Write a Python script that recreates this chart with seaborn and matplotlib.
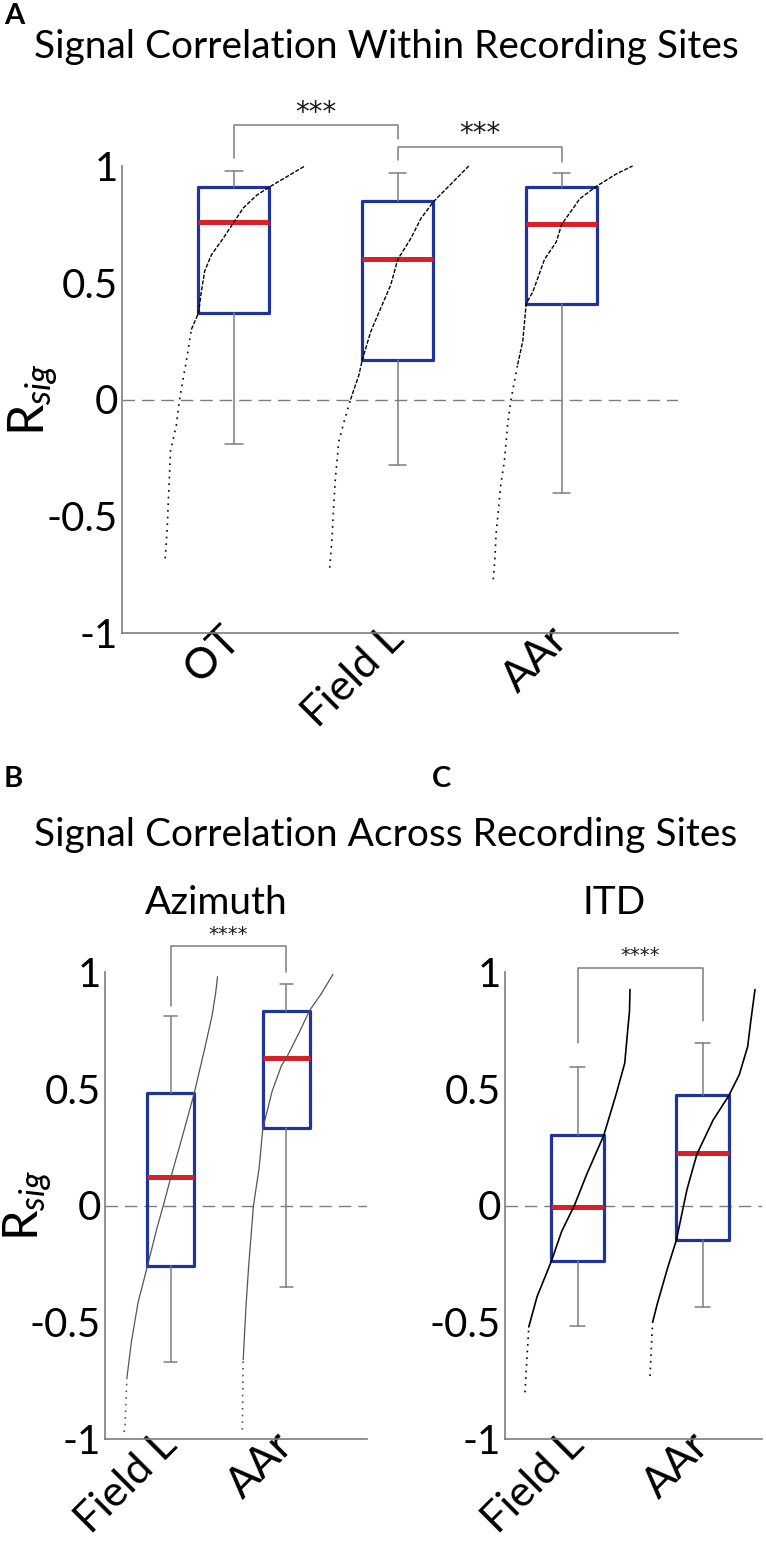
import numpy as np
import pandas as pd
import matplotlib
matplotlib.use("Agg")
import matplotlib.pyplot as plt
import matplotlib.transforms as mtrans
import seaborn as sns

sns.set_theme(style="white")
plt.rcParams['font.family'] = ['Lato', 'DejaVu Sans']
plt.rcParams['axes.unicode_minus'] = False
plt.rcParams['mathtext.fontset'] = 'custom'
plt.rcParams['mathtext.rm'] = 'Lato'
plt.rcParams['mathtext.it'] = 'Lato:italic'
plt.rcParams['text.color'] = 'black'
plt.rcParams['xtick.labelcolor'] = 'black'
plt.rcParams['ytick.labelcolor'] = 'black'

# ---------------- data ----------------
# Panel A: within recording sites
A_groups = ["OT", "Field L", "AAr"]
A_q1 = [0.37, 0.17, 0.41]
A_med = [0.76, 0.60, 0.75]
A_q3 = [0.91, 0.85, 0.91]
A_whislo = [-0.19, -0.28, -0.40]
A_whishi = [0.98, 0.97, 0.97]

A_OT_rank = [0.016, 0.030, 0.036, 0.045, 0.053, 0.094, 0.117, 0.14, 0.169, 0.20, 0.25, 0.27, 0.294, 0.342, 0.424, 0.50, 0.566, 0.661, 0.75, 1.0]
A_OT_val = [-0.68, -0.55, -0.46, -0.34, -0.22, -0.11, 0.0, 0.08, 0.18, 0.30, 0.37, 0.46, 0.55, 0.62, 0.69, 0.76, 0.82, 0.875, 0.91, 1.0]
A_FL_rank = [0.02, 0.037, 0.048, 0.06, 0.072, 0.084, 0.119, 0.167, 0.226, 0.25, 0.309, 0.379, 0.45, 0.5, 0.592, 0.663, 0.75, 1.0]
A_FL_val = [-0.72, -0.59, -0.46, -0.34, -0.26, -0.18, -0.10, 0.0, 0.105, 0.17, 0.29, 0.39, 0.49, 0.60, 0.69, 0.775, 0.846, 1.0]
A_AA_rank = [0.018, 0.03, 0.037, 0.053, 0.072, 0.096, 0.119, 0.143, 0.19, 0.226, 0.25, 0.296, 0.332, 0.379, 0.462, 0.5, 0.58, 0.628, 0.75, 0.888, 1.0]
A_AA_val = [-0.77, -0.68, -0.58, -0.48, -0.36, -0.265, -0.11, 0.0, 0.15, 0.25, 0.41, 0.46, 0.52, 0.60, 0.675, 0.75, 0.818, 0.86, 0.915, 0.967, 1.0]

# Panel B: across sites, azimuth
B_groups = ["Field L", "AAr"]
B_q1 = [-0.26, 0.33]
B_med = [0.12, 0.63]
B_q3 = [0.48, 0.835]
B_whislo = [-0.67, -0.35]
B_whishi = [0.81, 0.95]
B_FL_rank = [0.0, 0.01, 0.03, 0.08, 0.15, 0.25, 0.35, 0.42, 0.5, 0.62, 0.75, 0.85, 0.94, 0.98, 1.0]
B_FL_val = [-0.97, -0.95, -0.74, -0.58, -0.415, -0.26, -0.10, 0.0, 0.12, 0.29, 0.48, 0.65, 0.81, 0.91, 0.98]
B_AA_rank = [0.03, 0.04, 0.07, 0.10, 0.15, 0.21, 0.25, 0.35, 0.45, 0.5, 0.65, 0.75, 0.88, 1.0]
B_AA_val = [-0.96, -0.66, -0.43, -0.25, 0.0, 0.16, 0.33, 0.49, 0.60, 0.63, 0.75, 0.835, 0.91, 0.99]

# Panel C: across sites, ITD
C_groups = ["Field L", "AAr"]
C_q1 = [-0.237, -0.147]
C_med = [-0.006, 0.223]
C_q3 = [0.30, 0.472]
C_whislo = [-0.514, -0.434]
C_whishi = [0.595, 0.696]
C_FL_rank = [0.0, 0.01, 0.036, 0.115, 0.25, 0.35, 0.47, 0.59, 0.75, 0.87, 0.95, 0.98, 0.995, 1.0]
C_FL_val = [-0.80, -0.72, -0.52, -0.39, -0.24, -0.11, 0.0, 0.136, 0.30, 0.48, 0.61, 0.76, 0.83, 0.925]
C_AA_rank = [0.0, 0.025, 0.07, 0.166, 0.25, 0.353, 0.447, 0.6, 0.75, 0.85, 0.93, 0.96, 1.0]
C_AA_val = [-0.73, -0.50, -0.42, -0.27, -0.15, 0.07, 0.22, 0.365, 0.47, 0.56, 0.68, 0.79, 0.925]

YTICKS = [-1, -0.5, 0, 0.5, 1]
YTICKLABELS = ["-1", "-0.5", "0", "0.5", "1"]

# ---------------- style ----------------
BLUE = "#1f339a"
RED = "#dc1f26"
GRAY = "#7d7d7d"
W, H = 766, 1542
fig = plt.figure(figsize=(W / 100, H / 100), dpi=100)


def px_axes(l, t, r, b):
    return fig.add_axes([l / W, 1 - b / H, (r - l) / W, (b - t) / H])


def draw_curve(ax, xs, vals, color, lw, ls, tail_rank, rk):
    rk = np.asarray(rk)
    i = int(np.searchsorted(rk, tail_rank, side='right')) - 1
    i = max(i, 0)
    tail = pd.DataFrame({"x": xs[:i + 1], "y": vals[:i + 1]})
    main = pd.DataFrame({"x": xs[i:], "y": vals[i:]})
    if len(tail) > 1:
        sns.lineplot(data=tail, x="x", y="y", ax=ax, sort=False, estimator=None,
                     color=color, lw=1.2, linestyle=(0, (1, 3)),
                     clip_on=False, zorder=4)
    sns.lineplot(data=main, x="x", y="y", ax=ax, sort=False, estimator=None,
                 color=color, lw=lw, linestyle=ls, clip_on=False, zorder=4)


def draw_panel(ax, groups, q1, med, q3, lo, hi, curves, bw, cw, xlim,
               curve_color, curve_lw, curve_ls, tail_rank, fs_tick, fs_xtick):
    pos = list(range(1, len(groups) + 1))
    stats = [dict(med=m, q1=a, q3=b, whislo=l, whishi=h, fliers=[])
             for m, a, b, l, h in zip(med, q1, q3, lo, hi)]
    ax.axhline(0, color=GRAY, lw=1.0, ls=(0, (9, 5)), zorder=1)
    ax.bxp(stats, positions=pos, widths=bw, capwidths=cw, showfliers=False,
           manage_ticks=False,
           boxprops=dict(color=BLUE, lw=2.3),
           medianprops=dict(color=RED, lw=3.6, solid_capstyle='butt'),
           whiskerprops=dict(color=GRAY, lw=1.1),
           capprops=dict(color=GRAY, lw=1.1))
    for p, (rk, vals) in zip(pos, curves):
        xs = p + (np.asarray(rk) - 0.5) * 2 * bw
        draw_curve(ax, xs, np.asarray(vals), curve_color, curve_lw, curve_ls,
                   tail_rank, rk)
    ax.set_xlim(*xlim)
    ax.set_ylim(-1, 1)
    ax.set_xlabel("")
    ax.set_ylabel("")
    ax.set_yticks(YTICKS)
    ax.set_yticklabels(YTICKLABELS, fontsize=fs_tick)
    ax.set_xticks(pos)
    ax.set_xticklabels(groups, fontsize=fs_xtick, rotation=45, ha='right',
                       va='center', rotation_mode='anchor')
    off = mtrans.ScaledTranslation(0.24, -0.27, fig.dpi_scale_trans)
    for lab in ax.get_xticklabels():
        lab.set_transform(lab.get_transform() + off)
    ax.tick_params(axis='both', direction='in', length=4, width=1,
                   color=GRAY, labelcolor='black')
    ax.tick_params(axis='x', pad=0)
    ax.tick_params(axis='y', pad=3)
    for s in ['top', 'right']:
        ax.spines[s].set_visible(False)
    for s in ['left', 'bottom']:
        ax.spines[s].set_color(GRAY)
        ax.spines[s].set_linewidth(1.2)
    ax.set_facecolor('none')


def bracket(ax, x1, x2, ytop, y1, y2, label, ylab, fs):
    ax.plot([x1, x1, x2, x2], [y1, ytop, ytop, y2], color=GRAY, lw=1.1,
            clip_on=False)
    ax.text((x1 + x2) / 2, ylab, label, ha='center', va='center',
            fontsize=fs, color='#1a1a1a', clip_on=False,
            family=['DejaVu Sans'])


# Panel A
axA = px_axes(122, 166, 678, 633)
draw_panel(axA, A_groups, A_q1, A_med, A_q3, A_whislo, A_whishi,
           [(A_OT_rank, A_OT_val), (A_FL_rank, A_FL_val), (A_AA_rank, A_AA_val)],
           0.433, 0.105, (0.317, 3.71), 'black', 1.0, (0, (3, 1.2)), 0.2, 29, 31)
bracket(axA, 1, 2, 1.175, 1.034, 1.115, "***", 1.225, 20)
bracket(axA, 2, 3, 1.081, 1.026, 1.017, "***", 1.137, 20)

# Panel B
axB = px_axes(105, 972, 367, 1439)
draw_panel(axB, B_groups, B_q1, B_med, B_q3, B_whislo, B_whishi,
           [(B_FL_rank, B_FL_val), (B_AA_rank, B_AA_val)],
           0.405, 0.11, (0.43, 2.70), '#555555', 0.9, '-', 0.04, 29, 31)
bracket(axB, 1, 2, 1.112, 0.855, 1.0, "****", 1.162, 14)

# Panel C
axC = px_axes(505, 972, 762, 1439)
draw_panel(axC, C_groups, C_q1, C_med, C_q3, C_whislo, C_whishi,
           [(C_FL_rank, C_FL_val), (C_AA_rank, C_AA_val)],
           0.42, 0.12, (0.42, 2.476), 'black', 1.2, '-', 0.036, 29, 31)
bracket(axC, 1, 2, 1.016, 0.696, 0.79, "****", 1.072, 14)

# Texts
fig.text(4 / W, 1 - 3 / H, "A", fontsize=21, fontweight='bold', ha='left', va='top')
fig.text(4 / W, 1 - 766 / H, "B", fontsize=21, fontweight='bold', ha='left', va='top')
fig.text(432 / W, 1 - 766 / H, "C", fontsize=21, fontweight='bold', ha='left', va='top')
fig.text(386 / W, 1 - 47 / H, "Signal Correlation Within Recording Sites",
         fontsize=28, ha='center', va='center')
fig.text(386 / W, 1 - 835 / H, "Signal Correlation Across Recording Sites",
         fontsize=28, ha='center', va='center')
fig.text(216 / W, 1 - 903 / H, "Azimuth", fontsize=28, ha='center', va='center')
fig.text(614 / W, 1 - 903 / H, "ITD", fontsize=28, ha='center', va='center')
fig.text(33 / W, 1 - 400 / H, r"R$_{sig}$", fontsize=36, rotation=90,
         ha='center', va='center')
fig.text(27 / W, 1 - 1205 / H, r"R$_{sig}$", fontsize=35, rotation=90,
         ha='center', va='center')

fig.savefig("out.png", dpi=100, facecolor='white')
